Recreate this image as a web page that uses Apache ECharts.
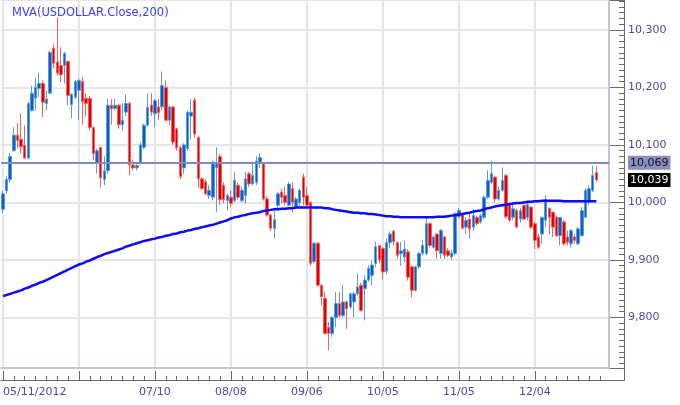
<!DOCTYPE html>
<html><head><meta charset="utf-8">
<script src="https://cdn.jsdelivr.net/npm/echarts@6/dist/echarts.min.js"></script>
<style>html,body{margin:0;padding:0;background:#fff}#c{width:680px;height:405px}</style>
</head><body><div id="c"></div>
<script>
// ---- data ----
const firstDay = [2012, 4, 11];     // 05/11/2012, weekdays only
const slotCount = 168;              // category slots across the plot
const opens = [
 9988,10020,10040,10090,10117,10110,10099,10077,10160,10181,10198,10207,10172,10190,10268,10244,10238,10238,10245,10170,10183,
 10195,10210,10181,10181,10130,10068,10096,10040,10055,10169,10163,10169,10135,10157,10172,10065,10060,10068,10096,10134,10169,
 10154,10166,10166,10200,10143,10166,10128,10095,10060,10094,10150,10178,10113,10041,10036,10012,10009,10060,10080,10030,10003,
 10009,10003,10030,10003,10012,10050,10032,10035,10070,10067,10006,9978,9955,9995,10018,10012,9995,10024,9992,10000,10044,
 10012,10000,9897,9929,9856,9833,9783,9772,9800,9824,9803,9827,9818,9827,9841,9856,9850,9865,9873,9894,9925,
 9920,9880,9930,9950,9930,9911,9905,9914,9888,9847,9888,9911,9911,9963,9922,9945,9911,9940,9916,9905,9911,
 9975,9980,9957,9971,9957,9974,9966,9974,10009,10035,10044,10006,10021,10047,9998,9974,9986,9971,9995,9974,9992,
 9963,9940,9945,9969,9990,9983,9974,9942,9966,9940,9928,9940,9928,9942,9974,10003,10021,10052];
const closes = [
 10015,10040,10080,10117,10108,10097,10077,10172,10190,10200,10207,10174,10180,10261,10242,10225,10222,10259,10186,10188,10210,
 10212,10175,10172,10130,10085,10090,10043,10055,10169,10163,10169,10135,10143,10172,10065,10060,10064,10100,10134,10165,10157,
 10177,10156,10203,10143,10166,10105,10095,10045,10100,10157,10157,10119,10041,10024,10015,10021,10070,10070,10005,10005,10012,
 9998,10038,10009,10021,10041,10032,10047,10072,10078,10006,9978,9955,9970,10015,10009,10000,10032,10000,10006,10021,10009,
 9995,9894,9929,9856,9836,9772,9772,9800,9824,9803,9827,9815,9841,9841,9853,9812,9865,9885,9891,9923,9900,
 9879,9930,9945,9932,9908,9916,9919,9870,9847,9888,9911,9925,9963,9925,9940,9916,9951,9908,9908,9912,9980,
 9986,9955,9969,9954,9977,9963,9977,10009,10038,10050,10006,10021,10038,9975,9969,9989,9957,9986,9971,9997,9957,
 9934,9922,9974,10005,9974,9957,9942,9974,9928,9931,9951,9934,9954,9986,10021,10024,10047,10039];
const lows = [
 9982,10015,10035,10088,10094,10085,10077,10076,10158,10160,10183,10148,10160,10188,10233,10221,10209,10207,10169,10146,10180,
 10143,10135,10150,10125,10073,10050,10026,10030,10050,10135,10160,10128,10125,10150,10047,10055,10055,10066,10093,10132,10150,
 10131,10143,10160,10141,10135,10100,10090,10040,10050,10090,10110,10112,10026,10022,10012,10006,10003,9983,9995,9998,9986,
 9992,10000,10005,10000,9998,10027,10030,10030,10060,10003,9975,9950,9938,9985,9998,9995,9995,9983,9990,9992,9995,
 9992,9890,9894,9853,9821,9770,9743,9766,9783,9800,9800,9780,9815,9800,9838,9810,9795,9862,9856,9888,9894,
 9866,9876,9920,9925,9902,9890,9896,9864,9835,9845,9885,9908,9908,9922,9920,9902,9902,9902,9905,9900,9908,
 9972,9953,9945,9937,9951,9960,9963,9971,10006,10032,10000,10003,10018,9972,9966,9969,9957,9965,9969,9969,9954,
 9919,9919,9928,9957,9945,9940,9940,9925,9925,9925,9922,9928,9925,9942,9974,9995,10018,10035];
const highs = [
 10020,10045,10085,10131,10139,10155,10134,10175,10203,10217,10226,10212,10195,10264,10275,10322,10270,10262,10247,10190,10213,
 10215,10218,10190,10185,10132,10094,10097,10080,10180,10180,10180,10172,10172,10188,10175,10075,10070,10104,10137,10190,10190,
 10180,10180,10228,10212,10168,10168,10130,10098,10103,10160,10180,10182,10115,10044,10040,10030,10073,10096,10085,10035,10015,
 10021,10053,10035,10027,10053,10053,10067,10080,10086,10070,10010,9980,9985,10018,10024,10027,10035,10035,10010,10024,10050,
 10027,10002,9931,9931,9858,9845,9792,9802,9844,9844,9856,9829,9843,9844,9876,9860,9873,9891,9899,9932,9926,
 9922,9937,9950,9952,9932,9931,9934,9919,9890,9890,9914,9934,9974,9966,9942,9946,9954,9942,9920,9918,9983,
 9990,9982,9974,9980,9989,9977,9980,10012,10056,10073,10046,10027,10061,10050,10000,9997,9989,9990,9995,10000,9992,
 9966,9945,9975,10012,9990,9983,9977,9974,9969,9951,9954,9945,9957,9992,10024,10030,10064,10064];
const mva200 = [
 9837,9839,9841,9843,9845,9847,9850,9852,9855,9857,9860,9862,9865,9868,9871,9874,9877,9880,9883,9886,9889,
 9892,9894,9897,9899,9902,9905,9907,9910,9912,9914,9916,9918,9920,9923,9925,9927,9929,9931,9933,9934,9936,
 9937,9939,9940,9942,9943,9945,9946,9948,9949,9951,9952,9954,9955,9957,9958,9960,9961,9963,9965,9967,9969,
 9972,9974,9975,9977,9978,9980,9981,9982,9983,9985,9986,9987,9988,9988,9989,9989,9990,9990,9991,9991,9991,
 9991,9991,9991,9991,9991,9990,9990,9988,9987,9986,9985,9984,9983,9982,9982,9981,9981,9980,9980,9979,9978,
 9977,9976,9976,9975,9975,9974,9974,9974,9974,9974,9974,9974,9974,9974,9974,9975,9975,9975,9976,9977,9978,
 9979,9980,9981,9982,9984,9985,9986,9988,9990,9991,9993,9994,9995,9996,9997,9998,9999,9999,10000,10001,10001,
 10002,10002,10003,10003,10003,10003,10003,10003,10002,10002,10002,10002,10002,10002,10002,10002,10002,10002];
const monthStarts = [0, 21, 42, 63, 84, 105, 126, 147];   // 05/11 06/11 07/10 08/08 09/06 10/05 11/05 12/04
const labelSlots  = [0, 42, 63, 84, 105, 126, 147];
const refLevel = 10069;
const lastClose = 10039;
const seriesName = 'MVA(USDOLLAR.Close,200)';

// ---- category dates (weekdays) ----
const pad = n => (n < 10 ? '0' : '') + n;
const dates = [];
{
  const d = new Date(Date.UTC(firstDay[0], firstDay[1], firstDay[2]));
  while (dates.length < slotCount) {
    const wd = d.getUTCDay();
    if (wd !== 0 && wd !== 6) dates.push(pad(d.getUTCMonth() + 1) + '/' + pad(d.getUTCDate()) + '/' + d.getUTCFullYear());
    d.setUTCDate(d.getUTCDate() + 1);
  }
}
const candles = opens.map((o, i) => [o, closes[i], lows[i], highs[i]]);
const fmtNum = v => String(Math.round(v)).replace(/\B(?=(\d{3})+(?!\d))/g, ',');

const FONT = 'DejaVu Sans';
const LABEL_COLOR = '#4b4b9e';
const AXIS_COLOR = '#6a6a6a';
const PANEL = '#c3c7d4';
const Y_MIN = 9712, Y_MAX = 10352;

const chart = echarts.init(document.getElementById('c'), null, {renderer: 'canvas'});
chart.setOption({
  animation: false,
  backgroundColor: '#ffffff',
  title: {
    text: seriesName, left: 7, top: 2,
    textStyle: {color: '#3a3aff', fontSize: 11.5, fontWeight: 'normal', fontFamily: FONT}
  },
  grid: {left: 0, right: 71, top: 0, height: 368, containLabel: false},
  graphic: [
    {type: 'line', silent: true, shape: {x1: 609, y1: 380.5, x2: 624.5, y2: 380.5}, style: {stroke: AXIS_COLOR, lineWidth: 1}},
    {type: 'line', silent: true, shape: {x1: 624.5, y1: 368, x2: 624.5, y2: 381}, style: {stroke: AXIS_COLOR, lineWidth: 1}}
  ],
  xAxis: [
    {
      type: 'category', data: dates, boundaryGap: true, position: 'bottom', offset: 12,
      axisLine: {show: true, lineStyle: {color: AXIS_COLOR, width: 1}},
      axisTick: {show: true, inside: true, length: 9, alignWithLabel: true,
                 interval: i => monthStarts.includes(i), lineStyle: {color: AXIS_COLOR}},
      axisLabel: {
        interval: i => labelSlots.includes(i), alignMinLabel: 'left',
        formatter: (v, i) => (i === 0 ? v : v.slice(0, 5)),
        color: LABEL_COLOR, fontSize: 11, fontFamily: FONT, margin: 7
      },
      splitLine: {show: true, alignWithLabel: true, interval: i => monthStarts.includes(i),
                  lineStyle: {color: '#e6e6e6', width: 2}}
    },
    {
      type: 'category', data: dates, boundaryGap: true, position: 'bottom', offset: 12,
      axisLine: {show: false},
      axisTick: {show: true, inside: true, length: 4, alignWithLabel: true,
                 interval: i => i % 3 === 0 && !monthStarts.includes(i), lineStyle: {color: AXIS_COLOR}},
      axisLabel: {show: false}, splitLine: {show: false}
    },
    {
      type: 'category', data: dates, boundaryGap: true, position: 'bottom', offset: 0,
      axisLine: {show: true, lineStyle: {color: PANEL, width: 2}},
      axisTick: {show: false}, axisLabel: {show: false}, splitLine: {show: false}
    }
  ],
  yAxis: [
    {
      type: 'value', position: 'right', offset: 15, min: Y_MIN, max: Y_MAX, splitNumber: 6, scale: true,
      axisLine: {show: true, lineStyle: {color: AXIS_COLOR, width: 1}},
      axisTick: {show: true, inside: true, length: 14, lineStyle: {color: AXIS_COLOR}},
      minorTick: {show: true, splitNumber: 10, length: 5, lineStyle: {color: AXIS_COLOR}},
      axisLabel: {showMinLabel: false, showMaxLabel: false, formatter: v => fmtNum(v),
                  color: LABEL_COLOR, fontSize: 11, fontFamily: FONT, margin: 4},
      splitLine: {show: true, lineStyle: {color: '#e6e6e6', width: 2}}
    },
    {
      type: 'value', position: 'right', offset: 0, min: Y_MIN, max: Y_MAX,
      axisLine: {show: true, lineStyle: {color: PANEL, width: 2}},
      axisTick: {show: false}, axisLabel: {show: false}, splitLine: {show: false}
    }
  ],
  series: [
    {
      type: 'candlestick', name: 'USDOLLAR', data: candles, xAxisIndex: 0, yAxisIndex: 0,
      barWidth: 3,
      itemStyle: {color: '#0b5ec4', color0: '#e30000', borderColor: '#5b9be0', borderColor0: '#f26060', borderWidth: 1},
      markLine: {
        silent: true, symbol: ['none', 'none'], animation: false,
        data: [
          {yAxis: refLevel, lineStyle: {color: '#8288bb', width: 2, type: 'solid'},
           label: {show: true, position: 'end', distance: 19, formatter: () => fmtNum(refLevel),
                   backgroundColor: '#8a8eba', color: '#10102a', fontSize: 11, fontFamily: FONT, padding: [2, 2, 1, 2]}},
          {yAxis: lastClose, lineStyle: {color: 'rgba(255,255,255,0)', width: 1, type: 'solid'},
           label: {show: true, position: 'end', distance: 19, formatter: () => fmtNum(lastClose),
                   backgroundColor: '#000000', color: '#ffffff', fontSize: 11, fontFamily: FONT, padding: [2, 2, 1, 2]}}
        ]
      }
    },
    {
      type: 'line', name: seriesName, data: mva200, xAxisIndex: 0, yAxisIndex: 0,
      showSymbol: false, symbol: 'none', smooth: false,
      lineStyle: {color: '#0a0aff', width: 2.5}, z: 3
    }
  ]
});
</script>
</body></html>
